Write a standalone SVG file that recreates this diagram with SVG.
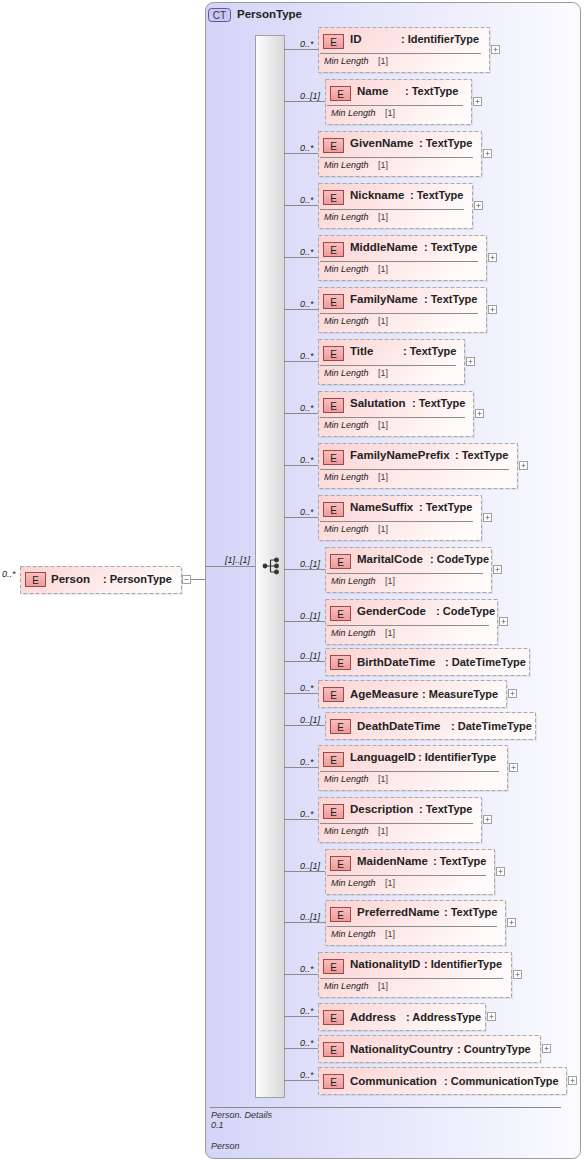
<svg xmlns="http://www.w3.org/2000/svg" width="584" height="1161" viewBox="0 0 584 1161">
<defs>
<linearGradient id="cg" x1="0" y1="0" x2="1" y2="0">
<stop offset="0" stop-color="#d4d4f8"/><stop offset="1" stop-color="#fbfbff"/>
</linearGradient>
<linearGradient id="sg" x1="0" y1="0" x2="1" y2="0">
<stop offset="0" stop-color="#fdfdfd"/><stop offset="1" stop-color="#d8d8d8"/>
</linearGradient>
<linearGradient id="pg" x1="0" y1="0" x2="1" y2="0.3">
<stop offset="0" stop-color="#fcd2d2"/><stop offset="1" stop-color="#fffafa"/>
</linearGradient>
<linearGradient id="eg" x1="0" y1="0" x2="0" y2="1">
<stop offset="0" stop-color="#f8c0c0"/><stop offset="1" stop-color="#ee9a9a"/>
</linearGradient>
<style>
.cont{fill:url(#cg);stroke:#9a9a9a;stroke-width:1}
.seq{fill:url(#sg);stroke:#a0a0a0;stroke-width:1}
.box{fill:url(#pg);stroke:#a9a9a9;stroke-width:1;stroke-dasharray:4,2}
.shd{fill:#000;opacity:0.07}
.badge{fill:url(#eg);stroke:#a04848;stroke-width:1}
.bt{font-family:"Liberation Sans",Arial,sans-serif;font-size:10px;fill:#222;text-anchor:middle}
.nm{font-family:"Liberation Sans",Arial,sans-serif;font-size:11.5px;font-weight:bold;fill:#222}
.ty{font-family:"Liberation Sans",Arial,sans-serif;font-size:11px;font-weight:bold;fill:#222}
.sep{stroke:#8c8c8c;stroke-width:1}
.ml{font-family:"Liberation Sans",Arial,sans-serif;font-size:9px;font-style:italic;fill:#222}
.mv{font-family:"Liberation Sans",Arial,sans-serif;font-size:9px;fill:#444}
.pb{fill:#fff;stroke:#a0a0a0;stroke-width:1}
.pp{stroke:#909090;stroke-width:1;fill:none}
.card{font-family:"Liberation Sans",Arial,sans-serif;font-size:9px;font-style:italic;fill:#222}
.ln{stroke:#8a8a8a;stroke-width:1;fill:none}
.ft{font-family:"Liberation Sans",Arial,sans-serif;font-size:9px;font-style:italic;fill:#333}
.ct{fill:#c8c8f2;stroke:#5a5a9a;stroke-width:1}
.ctt{font-family:"Liberation Sans",Arial,sans-serif;font-size:10px;fill:#333;text-anchor:middle}
.ico{fill:#333;stroke:#333;stroke-width:1.2}
</style>
</defs>

<g id="PersonType">
<rect class="cont" x="205.5" y="2.5" width="375" height="1156" rx="8"/>
<rect class="ct" x="208.5" y="8.5" width="22" height="13" rx="3"/>
<text class="ctt" x="219.5" y="19">CT</text>
<text class="nm" x="237" y="18">PersonType</text>
<line class="ln" x1="210" y1="1107.5" x2="561" y2="1107.5"/>
<text class="ft" x="211" y="1118">Person. Details</text>
<text class="ft" x="211" y="1128">0.1</text>
<text class="ft" x="211" y="1149">Person</text>
</g>

<g id="sequence">
<rect class="seq" x="255.5" y="35.5" width="29" height="1062"/>
<g class="ico">
<circle cx="265" cy="566" r="1.8"/>
<circle cx="276.5" cy="560" r="1.8"/>
<circle cx="276.5" cy="566" r="1.8"/>
<circle cx="276.5" cy="572" r="1.8"/>
<path d="M265 566H270.5M270.5 560V572M270.5 560H276.5M270.5 572H276.5M270.5 566H276.5" fill="none"/>
</g>
</g>

<g id="Person" transform="translate(20,566)">
<rect class="shd" x="2" y="2" width="161" height="27"/>
<rect class="box" x="0.5" y="0.5" width="161" height="27"/>
<rect class="badge" x="5.5" y="6.5" width="20" height="14"/>
<text class="bt" x="15.5" y="17.5">E</text>
<text class="nm" x="31" y="17">Person</text>
<text class="ty" x="83" y="17">: PersonType</text>
<rect class="pb" x="162.5" y="9.5" width="8" height="8"/>
<path class="pp" d="M164.5 13.5H168.5"/>
</g>

<g id="connectors">
<text class="card" x="2" y="577">0..*</text>
<path class="ln" d="M191 579.5H205M205 566.5H255"/>
<text class="card" x="250" y="563" text-anchor="end">[1]..[1]</text>
<path class="ln" d="M284 49.5H318M284 101.5H325M284 153.5H318M284 205.5H318M284 257.5H318M284 309.5H318M284 361.5H318M284 413.5H318M284 465.5H318M284 517.5H318M284 569.5H325M284 621.5H325M284 661.5H325M284 693.5H318M284 725.5H325M284 767.5H318M284 819.5H318M284 871.5H325M284 922.5H325M284 974.5H318M284 1016.5H318M284 1048.5H318M284 1080.5H318"/>
<g class="card">
<text x="300" y="46.5">0..*</text>
<text x="300" y="98.5">0..[1]</text>
<text x="300" y="150.5">0..*</text>
<text x="300" y="202.5">0..*</text>
<text x="300" y="254.5">0..*</text>
<text x="300" y="306.5">0..*</text>
<text x="300" y="358.5">0..*</text>
<text x="300" y="410.5">0..*</text>
<text x="300" y="462.5">0..*</text>
<text x="300" y="514.5">0..*</text>
<text x="300" y="566.5">0..[1]</text>
<text x="300" y="618.5">0..[1]</text>
<text x="300" y="658.5">0..[1]</text>
<text x="300" y="690.5">0..*</text>
<text x="300" y="722.5">0..[1]</text>
<text x="300" y="764.5">0..*</text>
<text x="300" y="816.5">0..*</text>
<text x="300" y="868.5">0..[1]</text>
<text x="300" y="919.5">0..[1]</text>
<text x="300" y="971.5">0..*</text>
<text x="300" y="1013.5">0..*</text>
<text x="300" y="1045.5">0..*</text>
<text x="300" y="1077.5">0..*</text>
</g>
</g>

<g id="ID" transform="translate(318,27)">
<rect class="shd" x="2" y="2" width="171" height="45"/>
<rect class="box" x="0.5" y="0.5" width="171" height="45"/>
<rect class="badge" x="5.5" y="7.5" width="20" height="14"/><text class="bt" x="15.5" y="18.5">E</text>
<text class="nm" x="32" y="16">ID</text><text class="ty" x="83" y="16">: IdentifierType</text>
<line class="sep" x1="2" y1="26.5" x2="163" y2="26.5"/>
<text class="ml" x="6" y="37">Min Length</text><text class="mv" x="60" y="37">[1]</text>
<rect class="pb" x="173.5" y="18.5" width="8" height="8"/><path class="pp" d="M175.5 22.5H179.5M177.5 20.5V24.5"/>
</g>

<g id="Name" transform="translate(325,79)">
<rect class="shd" x="2" y="2" width="146" height="45"/>
<rect class="box" x="0.5" y="0.5" width="146" height="45"/>
<rect class="badge" x="5.5" y="7.5" width="20" height="14"/><text class="bt" x="15.5" y="18.5">E</text>
<text class="nm" x="32" y="16">Name</text><text class="ty" x="80" y="16">: TextType</text>
<line class="sep" x1="2" y1="26.5" x2="138" y2="26.5"/>
<text class="ml" x="6" y="37">Min Length</text><text class="mv" x="60" y="37">[1]</text>
<rect class="pb" x="148.5" y="18.5" width="8" height="8"/><path class="pp" d="M150.5 22.5H154.5M152.5 20.5V24.5"/>
</g>

<g id="GivenName" transform="translate(318,131)">
<rect class="shd" x="2" y="2" width="163" height="45"/>
<rect class="box" x="0.5" y="0.5" width="163" height="45"/>
<rect class="badge" x="5.5" y="7.5" width="20" height="14"/><text class="bt" x="15.5" y="18.5">E</text>
<text class="nm" x="32" y="16">GivenName</text><text class="ty" x="101" y="16">: TextType</text>
<line class="sep" x1="2" y1="26.5" x2="155" y2="26.5"/>
<text class="ml" x="6" y="37">Min Length</text><text class="mv" x="60" y="37">[1]</text>
<rect class="pb" x="165.5" y="18.5" width="8" height="8"/><path class="pp" d="M167.5 22.5H171.5M169.5 20.5V24.5"/>
</g>

<g id="Nickname" transform="translate(318,183)">
<rect class="shd" x="2" y="2" width="154" height="45"/>
<rect class="box" x="0.5" y="0.5" width="154" height="45"/>
<rect class="badge" x="5.5" y="7.5" width="20" height="14"/><text class="bt" x="15.5" y="18.5">E</text>
<text class="nm" x="32" y="16">Nickname</text><text class="ty" x="92" y="16">: TextType</text>
<line class="sep" x1="2" y1="26.5" x2="146" y2="26.5"/>
<text class="ml" x="6" y="37">Min Length</text><text class="mv" x="60" y="37">[1]</text>
<rect class="pb" x="156.5" y="18.5" width="8" height="8"/><path class="pp" d="M158.5 22.5H162.5M160.5 20.5V24.5"/>
</g>

<g id="MiddleName" transform="translate(318,235)">
<rect class="shd" x="2" y="2" width="168" height="45"/>
<rect class="box" x="0.5" y="0.5" width="168" height="45"/>
<rect class="badge" x="5.5" y="7.5" width="20" height="14"/><text class="bt" x="15.5" y="18.5">E</text>
<text class="nm" x="32" y="16">MiddleName</text><text class="ty" x="106" y="16">: TextType</text>
<line class="sep" x1="2" y1="26.5" x2="160" y2="26.5"/>
<text class="ml" x="6" y="37">Min Length</text><text class="mv" x="60" y="37">[1]</text>
<rect class="pb" x="170.5" y="18.5" width="8" height="8"/><path class="pp" d="M172.5 22.5H176.5M174.5 20.5V24.5"/>
</g>

<g id="FamilyName" transform="translate(318,287)">
<rect class="shd" x="2" y="2" width="168" height="45"/>
<rect class="box" x="0.5" y="0.5" width="168" height="45"/>
<rect class="badge" x="5.5" y="7.5" width="20" height="14"/><text class="bt" x="15.5" y="18.5">E</text>
<text class="nm" x="32" y="16">FamilyName</text><text class="ty" x="106" y="16">: TextType</text>
<line class="sep" x1="2" y1="26.5" x2="160" y2="26.5"/>
<text class="ml" x="6" y="37">Min Length</text><text class="mv" x="60" y="37">[1]</text>
<rect class="pb" x="170.5" y="18.5" width="8" height="8"/><path class="pp" d="M172.5 22.5H176.5M174.5 20.5V24.5"/>
</g>

<g id="Title" transform="translate(318,339)">
<rect class="shd" x="2" y="2" width="146" height="45"/>
<rect class="box" x="0.5" y="0.5" width="146" height="45"/>
<rect class="badge" x="5.5" y="7.5" width="20" height="14"/><text class="bt" x="15.5" y="18.5">E</text>
<text class="nm" x="32" y="16">Title</text><text class="ty" x="85" y="16">: TextType</text>
<line class="sep" x1="2" y1="26.5" x2="138" y2="26.5"/>
<text class="ml" x="6" y="37">Min Length</text><text class="mv" x="60" y="37">[1]</text>
<rect class="pb" x="148.5" y="18.5" width="8" height="8"/><path class="pp" d="M150.5 22.5H154.5M152.5 20.5V24.5"/>
</g>

<g id="Salutation" transform="translate(318,391)">
<rect class="shd" x="2" y="2" width="155" height="45"/>
<rect class="box" x="0.5" y="0.5" width="155" height="45"/>
<rect class="badge" x="5.5" y="7.5" width="20" height="14"/><text class="bt" x="15.5" y="18.5">E</text>
<text class="nm" x="32" y="16">Salutation</text><text class="ty" x="94" y="16">: TextType</text>
<line class="sep" x1="2" y1="26.5" x2="147" y2="26.5"/>
<text class="ml" x="6" y="37">Min Length</text><text class="mv" x="60" y="37">[1]</text>
<rect class="pb" x="157.5" y="18.5" width="8" height="8"/><path class="pp" d="M159.5 22.5H163.5M161.5 20.5V24.5"/>
</g>

<g id="FamilyNamePrefix" transform="translate(318,443)">
<rect class="shd" x="2" y="2" width="199" height="45"/>
<rect class="box" x="0.5" y="0.5" width="199" height="45"/>
<rect class="badge" x="5.5" y="7.5" width="20" height="14"/><text class="bt" x="15.5" y="18.5">E</text>
<text class="nm" x="32" y="16">FamilyNamePrefix</text><text class="ty" x="137" y="16">: TextType</text>
<line class="sep" x1="2" y1="26.5" x2="191" y2="26.5"/>
<text class="ml" x="6" y="37">Min Length</text><text class="mv" x="60" y="37">[1]</text>
<rect class="pb" x="201.5" y="18.5" width="8" height="8"/><path class="pp" d="M203.5 22.5H207.5M205.5 20.5V24.5"/>
</g>

<g id="NameSuffix" transform="translate(318,495)">
<rect class="shd" x="2" y="2" width="163" height="45"/>
<rect class="box" x="0.5" y="0.5" width="163" height="45"/>
<rect class="badge" x="5.5" y="7.5" width="20" height="14"/><text class="bt" x="15.5" y="18.5">E</text>
<text class="nm" x="32" y="16">NameSuffix</text><text class="ty" x="101" y="16">: TextType</text>
<line class="sep" x1="2" y1="26.5" x2="155" y2="26.5"/>
<text class="ml" x="6" y="37">Min Length</text><text class="mv" x="60" y="37">[1]</text>
<rect class="pb" x="165.5" y="18.5" width="8" height="8"/><path class="pp" d="M167.5 22.5H171.5M169.5 20.5V24.5"/>
</g>

<g id="MaritalCode" transform="translate(325,547)">
<rect class="shd" x="2" y="2" width="166" height="45"/>
<rect class="box" x="0.5" y="0.5" width="166" height="45"/>
<rect class="badge" x="5.5" y="7.5" width="20" height="14"/><text class="bt" x="15.5" y="18.5">E</text>
<text class="nm" x="32" y="16">MaritalCode</text><text class="ty" x="105" y="16">: CodeType</text>
<line class="sep" x1="2" y1="26.5" x2="158" y2="26.5"/>
<text class="ml" x="6" y="37">Min Length</text><text class="mv" x="60" y="37">[1]</text>
<rect class="pb" x="168.5" y="18.5" width="8" height="8"/><path class="pp" d="M170.5 22.5H174.5M172.5 20.5V24.5"/>
</g>

<g id="GenderCode" transform="translate(325,599)">
<rect class="shd" x="2" y="2" width="172" height="45"/>
<rect class="box" x="0.5" y="0.5" width="172" height="45"/>
<rect class="badge" x="5.5" y="7.5" width="20" height="14"/><text class="bt" x="15.5" y="18.5">E</text>
<text class="nm" x="32" y="16">GenderCode</text><text class="ty" x="111" y="16">: CodeType</text>
<line class="sep" x1="2" y1="26.5" x2="164" y2="26.5"/>
<text class="ml" x="6" y="37">Min Length</text><text class="mv" x="60" y="37">[1]</text>
<rect class="pb" x="174.5" y="18.5" width="8" height="8"/><path class="pp" d="M176.5 22.5H180.5M178.5 20.5V24.5"/>
</g>

<g id="BirthDateTime" transform="translate(325,648)">
<rect class="shd" x="2" y="2" width="204" height="27"/>
<rect class="box" x="0.5" y="0.5" width="204" height="27"/>
<rect class="badge" x="5.5" y="7.5" width="20" height="14"/><text class="bt" x="15.5" y="18.5">E</text>
<text class="nm" x="32" y="17.5">BirthDateTime</text><text class="ty" x="120" y="17.5">: DateTimeType</text>
</g>

<g id="AgeMeasure" transform="translate(318,680)">
<rect class="shd" x="2" y="2" width="188" height="27"/>
<rect class="box" x="0.5" y="0.5" width="188" height="27"/>
<rect class="badge" x="5.5" y="7.5" width="20" height="14"/><text class="bt" x="15.5" y="18.5">E</text>
<text class="nm" x="32" y="17.5">AgeMeasure</text><text class="ty" x="104" y="17.5">: MeasureType</text>
<rect class="pb" x="190.5" y="9.5" width="8" height="8"/><path class="pp" d="M192.5 13.5H196.5M194.5 11.5V15.5"/>
</g>

<g id="DeathDateTime" transform="translate(325,712)">
<rect class="shd" x="2" y="2" width="210" height="27"/>
<rect class="box" x="0.5" y="0.5" width="210" height="27"/>
<rect class="badge" x="5.5" y="7.5" width="20" height="14"/><text class="bt" x="15.5" y="18.5">E</text>
<text class="nm" x="32" y="17.5">DeathDateTime</text><text class="ty" x="126" y="17.5">: DateTimeType</text>
</g>

<g id="LanguageID" transform="translate(318,745)">
<rect class="shd" x="2" y="2" width="189" height="45"/>
<rect class="box" x="0.5" y="0.5" width="189" height="45"/>
<rect class="badge" x="5.5" y="7.5" width="20" height="14"/><text class="bt" x="15.5" y="18.5">E</text>
<text class="nm" x="32" y="16">LanguageID</text><text class="ty" x="100" y="16">: IdentifierType</text>
<line class="sep" x1="2" y1="26.5" x2="181" y2="26.5"/>
<text class="ml" x="6" y="37">Min Length</text><text class="mv" x="60" y="37">[1]</text>
<rect class="pb" x="191.5" y="18.5" width="8" height="8"/><path class="pp" d="M193.5 22.5H197.5M195.5 20.5V24.5"/>
</g>

<g id="Description" transform="translate(318,797)">
<rect class="shd" x="2" y="2" width="163" height="45"/>
<rect class="box" x="0.5" y="0.5" width="163" height="45"/>
<rect class="badge" x="5.5" y="7.5" width="20" height="14"/><text class="bt" x="15.5" y="18.5">E</text>
<text class="nm" x="32" y="16">Description</text><text class="ty" x="101" y="16">: TextType</text>
<line class="sep" x1="2" y1="26.5" x2="155" y2="26.5"/>
<text class="ml" x="6" y="37">Min Length</text><text class="mv" x="60" y="37">[1]</text>
<rect class="pb" x="165.5" y="18.5" width="8" height="8"/><path class="pp" d="M167.5 22.5H171.5M169.5 20.5V24.5"/>
</g>

<g id="MaidenName" transform="translate(325,849)">
<rect class="shd" x="2" y="2" width="169" height="45"/>
<rect class="box" x="0.5" y="0.5" width="169" height="45"/>
<rect class="badge" x="5.5" y="7.5" width="20" height="14"/><text class="bt" x="15.5" y="18.5">E</text>
<text class="nm" x="32" y="16">MaidenName</text><text class="ty" x="108" y="16">: TextType</text>
<line class="sep" x1="2" y1="26.5" x2="161" y2="26.5"/>
<text class="ml" x="6" y="37">Min Length</text><text class="mv" x="60" y="37">[1]</text>
<rect class="pb" x="171.5" y="18.5" width="8" height="8"/><path class="pp" d="M173.5 22.5H177.5M175.5 20.5V24.5"/>
</g>

<g id="PreferredName" transform="translate(325,900)">
<rect class="shd" x="2" y="2" width="180" height="45"/>
<rect class="box" x="0.5" y="0.5" width="180" height="45"/>
<rect class="badge" x="5.5" y="7.5" width="20" height="14"/><text class="bt" x="15.5" y="18.5">E</text>
<text class="nm" x="32" y="16">PreferredName</text><text class="ty" x="119" y="16">: TextType</text>
<line class="sep" x1="2" y1="26.5" x2="172" y2="26.5"/>
<text class="ml" x="6" y="37">Min Length</text><text class="mv" x="60" y="37">[1]</text>
<rect class="pb" x="182.5" y="18.5" width="8" height="8"/><path class="pp" d="M184.5 22.5H188.5M186.5 20.5V24.5"/>
</g>

<g id="NationalityID" transform="translate(318,952)">
<rect class="shd" x="2" y="2" width="193" height="45"/>
<rect class="box" x="0.5" y="0.5" width="193" height="45"/>
<rect class="badge" x="5.5" y="7.5" width="20" height="14"/><text class="bt" x="15.5" y="18.5">E</text>
<text class="nm" x="32" y="16">NationalityID</text><text class="ty" x="106" y="16">: IdentifierType</text>
<line class="sep" x1="2" y1="26.5" x2="185" y2="26.5"/>
<text class="ml" x="6" y="37">Min Length</text><text class="mv" x="60" y="37">[1]</text>
<rect class="pb" x="195.5" y="18.5" width="8" height="8"/><path class="pp" d="M197.5 22.5H201.5M199.5 20.5V24.5"/>
</g>

<g id="Address" transform="translate(318,1003)">
<rect class="shd" x="2" y="2" width="167" height="27"/>
<rect class="box" x="0.5" y="0.5" width="167" height="27"/>
<rect class="badge" x="5.5" y="7.5" width="20" height="14"/><text class="bt" x="15.5" y="18.5">E</text>
<text class="nm" x="32" y="17.5">Address</text><text class="ty" x="88" y="17.5">: AddressType</text>
<rect class="pb" x="169.5" y="9.5" width="8" height="8"/><path class="pp" d="M171.5 13.5H175.5M173.5 11.5V15.5"/>
</g>

<g id="NationalityCountry" transform="translate(318,1035)">
<rect class="shd" x="2" y="2" width="222" height="27"/>
<rect class="box" x="0.5" y="0.5" width="222" height="27"/>
<rect class="badge" x="5.5" y="7.5" width="20" height="14"/><text class="bt" x="15.5" y="18.5">E</text>
<text class="nm" x="32" y="17.5">NationalityCountry</text><text class="ty" x="139" y="17.5">: CountryType</text>
<rect class="pb" x="224.5" y="9.5" width="8" height="8"/><path class="pp" d="M226.5 13.5H230.5M228.5 11.5V15.5"/>
</g>

<g id="Communication" transform="translate(318,1067)">
<rect class="shd" x="2" y="2" width="248" height="27"/>
<rect class="box" x="0.5" y="0.5" width="248" height="27"/>
<rect class="badge" x="5.5" y="7.5" width="20" height="14"/><text class="bt" x="15.5" y="18.5">E</text>
<text class="nm" x="32" y="17.5">Communication</text><text class="ty" x="126" y="17.5">: CommunicationType</text>
<rect class="pb" x="250.5" y="9.5" width="8" height="8"/><path class="pp" d="M252.5 13.5H256.5M254.5 11.5V15.5"/>
</g>
</svg>
